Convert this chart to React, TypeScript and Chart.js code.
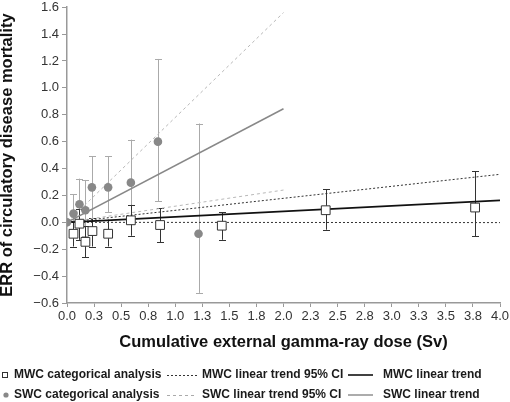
import React, { useEffect, useRef } from 'react';
import { Chart, registerables } from 'chart.js';

Chart.register(...registerables);

// ---- Data ----
const xTickValues = [0, 0.25, 0.5, 0.75, 1, 1.25, 1.5, 1.75, 2, 2.25, 2.5, 2.75, 3, 3.25, 3.5, 3.75, 4];
const xTickLabels = ['0.0', '0.3', '0.5', '0.8', '1.0', '1.3', '1.5', '1.8', '2.0', '2.3', '2.5', '2.8', '3.0', '3.3', '3.5', '3.8', '4.0'];
const yTickValues = [-0.6, -0.4, -0.2, 0, 0.2, 0.4, 0.6, 0.8, 1.0, 1.2, 1.4, 1.6];
const yTickLabels = ['\u22120.6', '\u22120.4', '\u22120.2', '0.0', '0.2', '0.4', '0.6', '0.8', '1.0', '1.2', '1.4', '1.6'];

// MWC categorical analysis (open squares)
const mwcDose = [0.06, 0.115, 0.17, 0.235, 0.38, 0.59, 0.86, 1.43, 2.39, 3.77];
const mwcErr = [-0.085, -0.01, -0.145, -0.065, -0.085, 0.015, -0.02, -0.025, 0.09, 0.11];
const mwcLower = [-0.18, -0.13, -0.26, -0.18, -0.18, -0.10, -0.15, -0.13, -0.055, -0.105];
const mwcUpper = [0.01, 0.10, -0.03, 0.03, 0.02, 0.13, 0.105, 0.075, 0.245, 0.38];

// SWC categorical analysis (grey circles)
const swcDose = [0, 0.06, 0.115, 0.17, 0.23, 0.38, 0.59, 0.84, 1.215];
const swcErr = [0, 0.065, 0.135, 0.09, 0.26, 0.26, 0.295, 0.6, -0.085];
const swcLower = [0, -0.05, -0.13, -0.10, 0.02, 0.075, 0.0, 0.155, -0.525];
const swcUpper = [0, 0.21, 0.325, 0.315, 0.49, 0.49, 0.615, 1.215, 0.735];

// Linear trends (end points)
const mwcTrendX = [0, 4];
const mwcTrendY = [0, 0.164];
const mwcCiUpperY = [0, 0.357];
const mwcCiLowerY = [0, -0.002];
const swcTrendX = [0, 2];
const swcTrendY = [0, 0.845];
const swcCiUpperY = [0, 1.56];
const swcCiLowerY = [0, 0.24];

const legendLabels = [
  'MWC categorical analysis',
  'MWC linear trend 95% CI',
  'MWC linear trend',
  'SWC categorical analysis',
  'SWC linear trend 95% CI',
  'SWC linear trend',
];

const FONT = '"Liberation Sans", Arial, Helvetica, sans-serif';

const pts = (xs: number[], ys: number[]) => xs.map((x, i) => ({ x, y: ys[i] }));

const errorBarPlugin = {
  id: 'errorBars',
  beforeDatasetsDraw(chart: any) {
    const { ctx, scales } = chart;
    const xs = scales.x;
    const ys = scales.y;
    const drawSet = (dose: number[], lo: number[], hi: number[], color: string) => {
      ctx.save();
      ctx.strokeStyle = color;
      ctx.lineWidth = 1;
      dose.forEach((d, i) => {
        if (lo[i] === hi[i]) return;
        const px = Math.round(xs.getPixelForValue(d)) + 0.5;
        const p1 = ys.getPixelForValue(lo[i]);
        const p2 = ys.getPixelForValue(hi[i]);
        ctx.beginPath();
        ctx.moveTo(px, p1);
        ctx.lineTo(px, p2);
        ctx.moveTo(px - 3.5, Math.round(p1) + 0.5);
        ctx.lineTo(px + 3.5, Math.round(p1) + 0.5);
        ctx.moveTo(px - 3.5, Math.round(p2) + 0.5);
        ctx.lineTo(px + 3.5, Math.round(p2) + 0.5);
        ctx.stroke();
      });
      ctx.restore();
    };
    drawSet(swcDose, swcLower, swcUpper, '#aaaaaa');
    drawSet(mwcDose, mwcLower, mwcUpper, '#333333');
  },
};

const legendPlugin = {
  id: 'customLegend',
  afterDraw(chart: any) {
    const ctx = chart.ctx;
    ctx.save();
    ctx.font = 'bold 12px ' + FONT;
    ctx.textBaseline = 'middle';
    ctx.textAlign = 'left';
    const rowY = [375, 395];
    const textX = [14, 202, 383];
    rowY.forEach((y, r) => {
      if (r === 0) {
        ctx.fillStyle = '#fff';
        ctx.strokeStyle = '#333';
        ctx.lineWidth = 1;
        ctx.fillRect(2.5, y - 2.5, 5, 5);
        ctx.strokeRect(2.5, y - 2.5, 5, 5);
      } else {
        ctx.fillStyle = '#888';
        ctx.beginPath();
        ctx.arc(6, y, 2.6, 0, Math.PI * 2);
        ctx.fill();
      }
      ctx.beginPath();
      ctx.strokeStyle = r === 0 ? '#333' : '#aaa';
      ctx.lineWidth = 1;
      ctx.setLineDash(r === 0 ? [2, 2] : [3, 3]);
      ctx.moveTo(167, y + 0.5);
      ctx.lineTo(197, y + 0.5);
      ctx.stroke();
      ctx.beginPath();
      ctx.setLineDash([]);
      ctx.strokeStyle = r === 0 ? '#111' : '#888';
      ctx.lineWidth = r === 0 ? 1.6 : 1.4;
      ctx.moveTo(348, y);
      ctx.lineTo(373, y);
      ctx.stroke();
      ctx.fillStyle = '#1a1a1a';
      for (let c = 0; c < 3; c++) {
        ctx.fillText(legendLabels[r * 3 + c], textX[c], y);
      }
    });
    ctx.restore();
  },
};

export default function App() {
  const canvasRef = useRef<HTMLCanvasElement | null>(null);

  useEffect(() => {
    const canvas = canvasRef.current;
    if (!canvas) return;
    const lineDs = (data: any[], color: string, width: number, dash: number[], order: number) => ({
      type: 'line' as const,
      data,
      borderColor: color,
      borderWidth: width,
      borderDash: dash,
      pointRadius: 0,
      fill: false,
      showLine: true,
      tension: 0,
      order,
    });
    const chart = new Chart(canvas, {
      type: 'scatter',
      data: {
        datasets: [
          lineDs(pts(swcTrendX, swcCiUpperY), '#b8b8b8', 1, [3, 3], 10),
          lineDs(pts(swcTrendX, swcCiLowerY), '#b8b8b8', 1, [3, 3], 10),
          lineDs(pts(mwcTrendX, mwcCiUpperY), '#333', 1, [2, 2], 9),
          lineDs(pts(mwcTrendX, mwcCiLowerY), '#333', 1, [2, 2], 9),
          lineDs(pts(swcTrendX, swcTrendY), '#888', 1.5, [], 8),
          lineDs(pts(mwcTrendX, mwcTrendY), '#111', 1.8, [], 7),
          {
            type: 'scatter' as const,
            data: pts(mwcDose, mwcErr),
            pointStyle: 'rect',
            pointRadius: 6.2,
            backgroundColor: '#ffffff',
            borderColor: '#333',
            borderWidth: 1,
            order: 2,
          },
          {
            type: 'scatter' as const,
            data: pts(swcDose, swcErr),
            pointStyle: 'circle',
            pointRadius: 4.3,
            backgroundColor: '#888',
            borderColor: '#888',
            borderWidth: 0,
            order: 1,
          },
        ] as any,
      },
      options: {
        responsive: false,
        animation: false,
        devicePixelRatio: 1,
        layout: { padding: { top: 6, right: 10, bottom: 50, left: 0 } },
        plugins: {
          legend: { display: false },
          tooltip: { enabled: false },
        },
        scales: {
          x: {
            type: 'linear',
            min: 0,
            max: 4,
            afterBuildTicks: (scale: any) => {
              scale.ticks = xTickValues.map((v) => ({ value: v }));
            },
            afterFit: (scale: any) => {
              scale.height = 49;
              scale.paddingLeft = 0;
              scale.paddingRight = 0;
            },
            ticks: {
              autoSkip: false,
              maxRotation: 0,
              padding: 2,
              color: '#333',
              font: { family: FONT, size: 13 },
              callback: (value: any) => {
                const i = xTickValues.findIndex((v) => Math.abs(v - Number(value)) < 1e-6);
                return i >= 0 ? xTickLabels[i] : '';
              },
            },
            grid: { drawOnChartArea: false, drawTicks: true, tickLength: 4, color: '#999', lineWidth: 1 },
            border: { display: true, color: '#999', width: 1.5 },
            title: {
              display: true,
              text: 'Cumulative external gamma-ray dose (Sv)',
              color: '#111',
              font: { family: FONT, size: 16.5, weight: 'bold', lineHeight: 1 },
              padding: { top: 0, bottom: 1.5 },
            },
          },
          y: {
            type: 'linear',
            min: -0.6,
            max: 1.6,
            afterBuildTicks: (scale: any) => {
              scale.ticks = yTickValues.map((v) => ({ value: v }));
            },
            afterFit: (scale: any) => {
              scale.width = 67;
              scale.paddingTop = 0;
              scale.paddingBottom = 0;
            },
            ticks: {
              padding: 3,
              color: '#333',
              font: { family: FONT, size: 13 },
              callback: (value: any) => {
                const i = yTickValues.findIndex((v) => Math.abs(v - Number(value)) < 1e-6);
                return i >= 0 ? yTickLabels[i] : '';
              },
            },
            grid: { drawOnChartArea: false, drawTicks: true, tickLength: 5, color: '#999', lineWidth: 1 },
            border: { display: true, color: '#999', width: 1.5 },
            title: {
              display: true,
              text: 'ERR of circulatory disease mortality',
              color: '#111',
              font: { family: FONT, size: 16.5, weight: 'bold', lineHeight: 0.9 },
              padding: { top: 0, bottom: 0 },
            },
          },
        },
      } as any,
      plugins: [errorBarPlugin, legendPlugin],
    });
    return () => chart.destroy();
  }, []);

  return (
    <div style={{ position: 'fixed', left: 0, top: 0, width: 510, height: 402, background: '#fff' }}>
      <canvas ref={canvasRef} width={510} height={402} style={{ display: 'block', width: 510, height: 402 }} />
    </div>
  );
}
